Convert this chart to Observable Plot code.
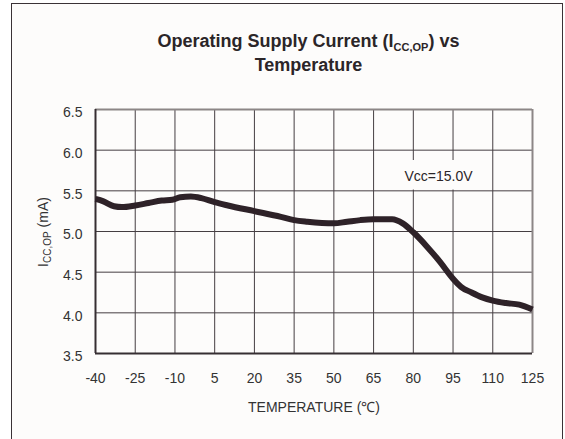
<!DOCTYPE html>
<html><head><meta charset="utf-8">
<script src="https://cdn.jsdelivr.net/npm/d3@7"></script>
<script src="https://cdn.jsdelivr.net/npm/@observablehq/plot@0.6"></script>
<style>
html,body{margin:0;padding:0;background:#fff;overflow:hidden;}
#frame{position:absolute;left:11px;top:3px;width:550px;height:460px;border:1px solid #3a3236;border-bottom:none;background:#fdfcfb;font-family:"Liberation Sans",Arial,sans-serif;}
#title{box-sizing:border-box;height:73px;padding-top:25px;padding-left:43px;text-align:center;font-weight:bold;font-size:18px;line-height:24px;color:#2b2528;}
#title sub{font-size:11px;line-height:0;vertical-align:baseline;position:relative;top:4px;}
#chart svg{display:block;}
</style></head><body>
<div id="frame"><div id="title">Operating Supply Current (I<sub>CC,OP</sub>) vs<br>Temperature</div><div id="chart"></div></div>
<script>
const temperature = [-40,-37,-33,-30,-25,-20,-15,-11,-8,-4,0,5,10,20,30,35,40,50,55,60,65,72,76,80,85,90,95,98,102,106,110,115,120,125];
const current     = [5.40,5.37,5.31,5.30,5.32,5.35,5.38,5.39,5.42,5.43,5.41,5.36,5.32,5.25,5.18,5.14,5.12,5.10,5.12,5.14,5.15,5.15,5.10,4.99,4.82,4.63,4.42,4.32,4.25,4.19,4.15,4.12,4.10,4.04];
const xTicks = [-40,-25,-10,5,20,35,50,65,80,95,110,125];
const yTicks = [3.5,4.0,4.5,5.0,5.5,6.0,6.5];
const annotationText = "Vcc=15.0V";
const xLabel = "TEMPERATURE (\u2103)";

const data = temperature.map((t, i) => ({t, v: current[i]}));
const gridColor = "#453e42";
const dark = "#362e32";

const chart = Plot.plot({
  width: 550,
  height: 362,
  marginLeft: 83,
  marginRight: 30,
  marginTop: 32,
  marginBottom: 86,
  style: {fontFamily: "'Liberation Sans', Arial, sans-serif", fontSize: "14px", background: "transparent", color: "#333", overflow: "visible"},
  x: {domain: [xTicks[0], xTicks[xTicks.length - 1]]},
  y: {domain: [yTicks[0], yTicks[yTicks.length - 1]]},
  marks: [
    Plot.ruleX(xTicks, {stroke: gridColor, strokeWidth: 1}),
    Plot.ruleY(yTicks, {stroke: gridColor, strokeWidth: 1}),
    Plot.ruleX([xTicks[xTicks.length - 1]], {stroke: "#8c8686", strokeWidth: 2}),
    Plot.ruleY([yTicks[yTicks.length - 1]], {stroke: "#8c8686", strokeWidth: 2}),
    Plot.ruleX([xTicks[0]], {stroke: dark, strokeWidth: 2}),
    Plot.ruleY([yTicks[0]], {stroke: dark, strokeWidth: 2}),
    Plot.rect([annotationText], {x1: 74, x2: 105.6, y1: 5.51, y2: 5.873, fill: "#fdfcfb"}),
    Plot.text([annotationText], {x: 89.5, y: 5.68, text: d => d, fontSize: 14, fill: "#2b2528"}),
    Plot.line(data, {x: "t", y: "v", stroke: "#2e2228", strokeWidth: 6, curve: "monotone-x", strokeLinejoin: "round", strokeLinecap: "butt"}),
    Plot.axisX({ticks: xTicks, tickSize: 0, tickPadding: 20, tickFormat: d => String(d), label: null, fill: "#333"}),
    Plot.axisY({ticks: yTicks, tickSize: 0, tickPadding: 13, tickFormat: d => d.toFixed(1), label: null, dy: 3.5, fill: "#333"})
  ]
});

const svg = d3.select(chart);
// x-axis label
svg.append("text")
  .attr("x", 302).attr("y", 334.5)
  .attr("text-anchor", "middle")
  .attr("font-size", 14)
  .attr("fill", "#333")
  .text(xLabel);
// y-axis label with subscript
const yl = svg.append("text")
  .attr("transform", "translate(36,155) rotate(-90)")
  .attr("text-anchor", "middle")
  .attr("font-size", 14)
  .attr("fill", "#333");
yl.append("tspan").text("I");
yl.append("tspan").attr("font-size", 10).attr("dy", 3).text("CC,OP");
yl.append("tspan").attr("dy", -3).text(" (mA)");

document.getElementById("chart").appendChild(chart);
</script>
</body></html>
